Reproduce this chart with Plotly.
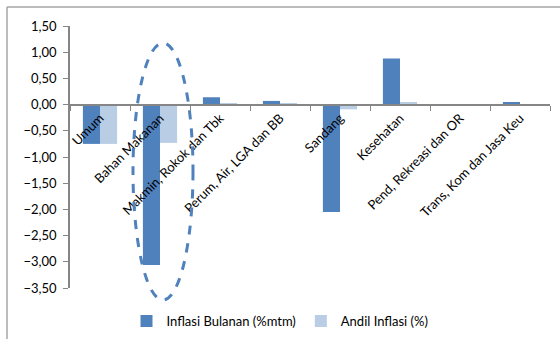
import plotly.graph_objects as go

categories = ["Umum", "Bahan Makanan", "Makmin, Rokok dan Tbk", "Perum, Air, LGA dan BB",
              "Sandang", "Kesehatan", "Pend, Rekreasi dan OR", "Trans, Kom dan Jasa Keu"]
inflasi_bulanan = [-0.75, -3.06, 0.14, 0.07, -2.05, 0.88, 0.00, 0.05]
andil_inflasi = [-0.75, -0.73, 0.03, 0.02, -0.09, 0.05, 0.00, 0.01]
series_names = ["Inflasi Bulanan (%mtm)", "Andil Inflasi (%)"]
y_ticks = [1.5, 1.0, 0.5, 0.0, -0.5, -1.0, -1.5, -2.0, -2.5, -3.0, -3.5]

FONT = "Lato"
W, H = 560, 339
ML, MR, MT, MB = 70, 10, 26, 0
PLOT_BOTTOM_PX = 288  # pixel row of the lowest y tick

def px_to_paper_x(px):
    return (px - ML) / (W - ML - MR)

def px_to_paper_y(py):
    return (H - MB - py) / (H - MT - MB)

dom0 = px_to_paper_y(PLOT_BOTTOM_PX)

fig = go.Figure()
fig.add_trace(go.Bar(x=categories, y=inflasi_bulanan, name=series_names[0],
                     marker=dict(color="#4F81BD", line=dict(width=0))))
fig.add_trace(go.Bar(x=categories, y=andil_inflasi, name=series_names[1],
                     marker=dict(color="#B9CDE5", line=dict(width=0))))

ymin, ymax = -3.5, 1.5
fig.update_layout(
    width=W, height=H,
    margin=dict(l=ML, r=MR, t=MT, b=MB, pad=0, autoexpand=False),
    paper_bgcolor="white", plot_bgcolor="white",
    separators=",.",
    barmode="group", bargap=0.43, bargroupgap=0,
    font=dict(family=FONT, size=13, color="#000000"),
    showlegend=True,
    legend=dict(orientation="h", x=px_to_paper_x(280), xanchor="center",
                y=px_to_paper_y(321), yanchor="middle",
                font=dict(family=FONT, size=13, color="#000000"),
                itemwidth=30, tracegroupgap=0, bgcolor="rgba(0,0,0,0)"),
    xaxis=dict(
        anchor="free", position=dom0 + (1 - dom0) * (0 - ymin) / (ymax - ymin),
        automargin=False,
        showline=True, linecolor="#868686", linewidth=2,
        ticks="outside", tickson="boundaries", ticklen=5, tickcolor="#868686", tickwidth=1,
        tickangle=-45, tickfont=dict(family=FONT, size=13, color="#000000"),
        showgrid=False, zeroline=False, layer="above traces",
    ),
    yaxis=dict(
        domain=[dom0, 1], automargin=False,
        range=[ymin, ymax], tickvals=y_ticks, tickformat=".2f",
        showline=True, linecolor="#868686", linewidth=1.5,
        ticks="outside", ticklen=5, tickcolor="#868686", ticklabelstandoff=4,
        tickfont=dict(family=FONT, size=13, color="#000000"),
        showgrid=False, zeroline=False,
    ),
    shapes=[
        dict(type="circle", xref="paper", yref="paper",
             x0=px_to_paper_x(133), x1=px_to_paper_x(193),
             y0=px_to_paper_y(300), y1=px_to_paper_y(43),
             line=dict(color="#4F81BD", width=3, dash="dash"), layer="above"),
        dict(type="line", xref="paper", yref="paper",
             x0=px_to_paper_x(7), x1=px_to_paper_x(W + 5), y0=px_to_paper_y(7), y1=px_to_paper_y(7),
             line=dict(color="#A6A6A6", width=1.5)),
        dict(type="line", xref="paper", yref="paper",
             x0=px_to_paper_x(7), x1=px_to_paper_x(7), y0=px_to_paper_y(7), y1=px_to_paper_y(H + 5),
             line=dict(color="#A6A6A6", width=1.5)),
    ],
)

fig.write_html("out.html")
